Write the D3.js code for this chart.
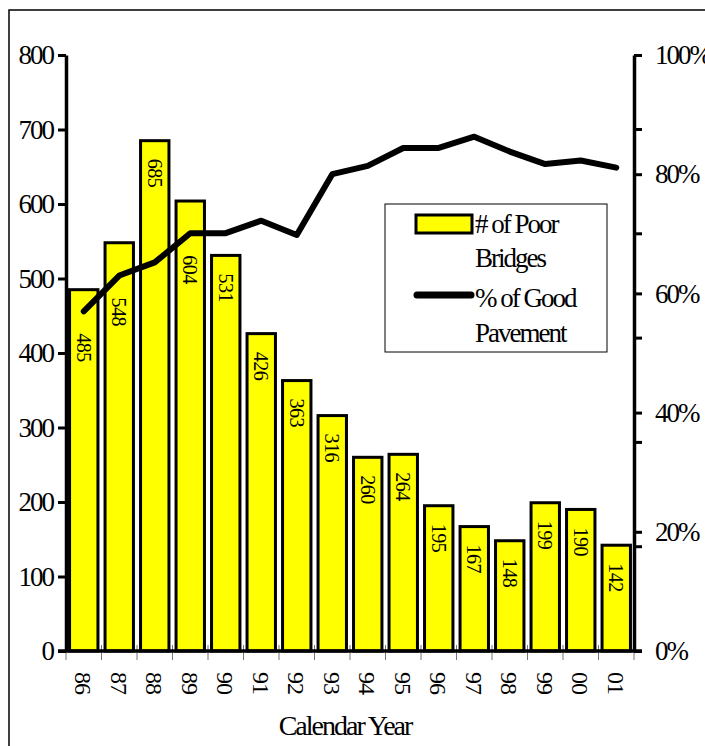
<!DOCTYPE html>
<html>
<head>
<meta charset="utf-8">
<script src="https://cdn.jsdelivr.net/npm/d3@7"></script>
<style>
	body { margin: 0; background: #fff; }
	svg text { font-family: "Liberation Serif", "Times New Roman", serif; fill: #000; }
</style>
</head>
<body>
<div id="chart"></div>
<script>
var years = ["86", "87", "88", "89", "90", "91", "92", "93", "94", "95", "96", "97", "98", "99", "00", "01"];
var poorBridges = [485, 548, 685, 604, 531, 426, 363, 316, 260, 264, 195, 167, 148, 199, 190, 142];
var goodPavement = [57, 63, 65.2, 70.1, 70.1, 72.2, 69.8, 80, 81.4, 84.4, 84.4, 86.3, 83.8, 81.7, 82.3, 81.1];
var leftTicks = [0, 100, 200, 300, 400, 500, 600, 700, 800];
var rightTicks = [0, 20, 40, 60, 80, 100];
var rightMinorTicks = [17.5, 35, 52.5, 70, 87.5];

var W = 705, H = 746;
var margin = { top: 55, right: 71, bottom: 95, left: 66 };
var width = W - margin.left - margin.right,
	height = H - margin.top - margin.bottom;

var svg = d3.select("#chart").append("svg")
	.attr("width", W)
	.attr("height", H);

// outer frame (runs off the right and bottom edges)
svg.append("rect")
	.attr("x", 9).attr("y", 10)
	.attr("width", W + 10).attr("height", H + 10)
	.attr("fill", "none")
	.attr("stroke", "#000")
	.attr("stroke-width", 1.5);

var g = svg.append("g")
	.attr("transform", "translate(" + margin.left + "," + margin.top + ")");

var x = d3.scaleBand()
	.domain(years)
	.range([0, width])
	.paddingInner(0.2)
	.paddingOuter(0.1);

var xTick = d3.scaleBand()
	.domain(years)
	.range([0, width]);

var y = d3.scaleLinear().domain([0, 800]).range([height, 0]);
var y2 = d3.scaleLinear().domain([0, 100]).range([height, 0]);

// category boundary ticks
g.append("g")
	.selectAll("line")
	.data(years.concat(["end"]))
	.enter().append("line")
	.attr("x1", function(d, i) { return i * xTick.step(); })
	.attr("x2", function(d, i) { return i * xTick.step(); })
	.attr("y1", height - 6)
	.attr("y2", height + 9)
	.attr("stroke", "#777")
	.attr("stroke-width", 1);

// bars
g.append("g")
	.selectAll("rect")
	.data(poorBridges)
	.enter().append("rect")
	.attr("x", function(d, i) { return x(years[i]); })
	.attr("y", function(d) { return y(d); })
	.attr("width", x.bandwidth())
	.attr("height", function(d) { return height - y(d); })
	.attr("fill", "#FFFF00")
	.attr("stroke", "#000")
	.attr("stroke-width", 3);

// bar value labels, pushed below the line where they would collide
var labelLen = 29;
g.append("g")
	.selectAll("text")
	.data(poorBridges)
	.enter().append("text")
	.attr("transform", function(d, i) {
		var cx = x(years[i]) + x.bandwidth() / 2;
		var top = y(d) + 18;
		var ly = y2(goodPavement[i]);
		if (ly > top - 8 && ly < top + labelLen + 8) {
			top = ly + 22;
		}
		return "translate(" + cx + "," + top + ") rotate(90)";
	})
	.attr("dy", "0.35em")
	.style("font-size", "20px")
	.style("letter-spacing", "-0.5px")
	.style("text-anchor", "start")
	.text(function(d) { return d; });

// pavement line
var line = d3.line()
	.x(function(d, i) { return x(years[i]) + x.bandwidth() / 2; })
	.y(function(d) { return y2(d); });

g.append("path")
	.datum(goodPavement)
	.attr("d", line)
	.attr("fill", "none")
	.attr("stroke", "#000")
	.attr("stroke-width", 6)
	.attr("stroke-linejoin", "round")
	.attr("stroke-linecap", "round");

// left axis
var yAxis = d3.axisLeft(y)
	.tickValues(leftTicks)
	.tickSizeInner(8)
	.tickSizeOuter(0)
	.tickPadding(5);

var gy = g.append("g").call(yAxis);
gy.select(".domain").attr("stroke-width", 3.5);
gy.selectAll(".tick line").attr("stroke-width", 3);
gy.selectAll(".tick text")
	.style("font-family", "Liberation Serif")
	.style("font-size", "27px")
	.style("letter-spacing", "-2px");

// right axis
var y2Axis = d3.axisRight(y2)
	.tickValues(rightTicks)
	.tickSizeInner(8)
	.tickSizeOuter(0)
	.tickPadding(13)
	.tickFormat(function(d) { return d + "%"; });

var gy2 = g.append("g")
	.attr("transform", "translate(" + width + ",0)")
	.call(y2Axis);
gy2.select(".domain").attr("stroke-width", 3.5);
gy2.selectAll(".tick line").attr("stroke-width", 3);
gy2.selectAll(".tick text")
	.style("font-family", "Liberation Serif")
	.style("font-size", "27px")
	.style("letter-spacing", "-2px");

gy2.append("g")
	.selectAll("line")
	.data(rightMinorTicks)
	.enter().append("line")
	.attr("x1", 0).attr("x2", 8)
	.attr("y1", function(d) { return y2(d); })
	.attr("y2", function(d) { return y2(d); })
	.attr("stroke", "#000")
	.attr("stroke-width", 3);

// x axis line
g.append("line")
	.attr("x1", -8).attr("x2", width + 8)
	.attr("y1", height).attr("y2", height)
	.attr("stroke", "#000")
	.attr("stroke-width", 3.5);

// x labels
g.append("g")
	.selectAll("text")
	.data(years)
	.enter().append("text")
	.attr("transform", function(d) {
		return "translate(" + (x(d) + x.bandwidth() / 2) + "," + (height + 21) + ") rotate(90)";
	})
	.attr("dy", "0.35em")
	.style("font-size", "24px")
	.style("letter-spacing", "-1px")
	.style("text-anchor", "start")
	.text(function(d) { return d; });

g.append("text")
	.attr("x", width / 2 - 5)
	.attr("y", height + 84)
	.style("font-size", "28px")
	.style("letter-spacing", "-2px")
	.style("text-anchor", "middle")
	.text("Calendar Year");

// legend
var legend = svg.append("g").attr("transform", "translate(385,204)");
legend.append("rect")
	.attr("width", 222).attr("height", 148)
	.attr("fill", "#fff")
	.attr("stroke", "#000")
	.attr("stroke-width", 1);

legend.append("rect")
	.attr("x", 31).attr("y", 11)
	.attr("width", 56).attr("height", 18)
	.attr("fill", "#FFFF00")
	.attr("stroke", "#000")
	.attr("stroke-width", 3);

legend.append("line")
	.attr("x1", 32).attr("x2", 86)
	.attr("y1", 91).attr("y2", 91)
	.attr("stroke", "#000")
	.attr("stroke-width", 7)
	.attr("stroke-linecap", "round");

var legendLines = [["# of Poor", 29], ["Bridges", 63], ["% of Good", 103], ["Pavement", 138]];
legend.selectAll("text.lg")
	.data(legendLines)
	.enter().append("text")
	.attr("class", "lg")
	.attr("x", 90)
	.attr("y", function(d) { return d[1]; })
	.style("font-size", "27px")
	.style("letter-spacing", "-2px")
	.text(function(d) { return d[0]; });
</script>
</body>
</html>
